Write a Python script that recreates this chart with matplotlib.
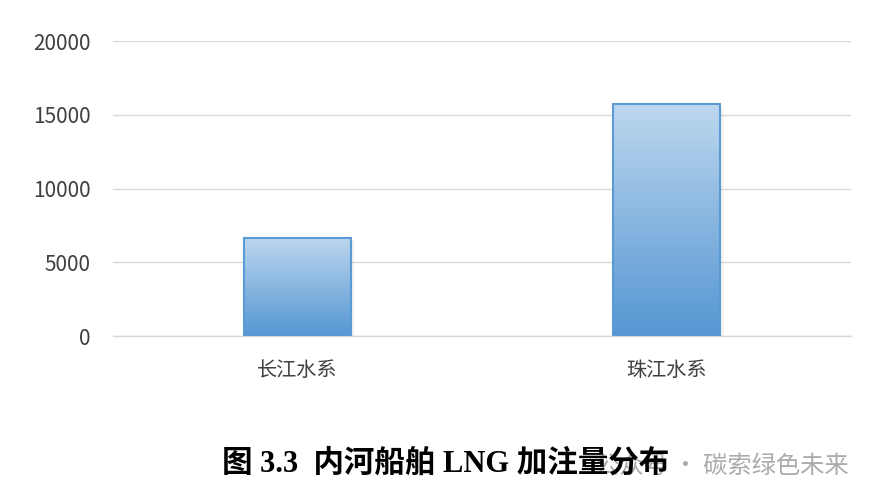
import matplotlib
matplotlib.use("Agg")
import matplotlib.pyplot as plt
import numpy as np
from matplotlib.colors import LinearSegmentedColormap
from matplotlib.patches import Rectangle

# data
categories = ['长江水系', '珠江水系']
values = [6650, 15720]
y_ticks = [0, 5000, 10000, 15000, 20000]

plt.rcParams['font.family'] = ['Noto Sans CJK SC', 'DejaVu Sans']

fig = plt.figure(figsize=(8.76, 5.01), dpi=100)
ax = fig.add_axes([0.129, 0.329, 0.842, 0.589])

x = np.arange(len(categories))
bar_w = 0.29
cmap = LinearSegmentedColormap.from_list('blu', ['#5596D3', '#BDD7EE'])
grad = np.linspace(0, 1, 256).reshape(-1, 1)

bars = ax.bar(x, values, width=bar_w, color='none', edgecolor='#5B9BD5',
              linewidth=1.5, zorder=3)
for b in bars:
    bx, by = b.get_x(), b.get_y()
    bw, bh = b.get_width(), b.get_height()
    # soft shadow
    for i, a in enumerate([0.10, 0.06, 0.03]):
        sh = Rectangle((bx + 0.004 * (i + 1), by - 60 * (i + 1)), bw, bh,
                       facecolor='#7f7f7f', edgecolor='none', alpha=a, zorder=2)
        ax.add_patch(sh)
    im = ax.imshow(grad, cmap=cmap, aspect='auto', origin='lower',
                   extent=[bx, bx + bw, by, by + bh], zorder=2.5)
    im.set_clip_path(b)

ax.set_xlim(-0.5, 1.5)
ax.set_ylim(0, 20000)
ax.set_yticks(y_ticks)
ax.set_yticklabels([str(t) for t in y_ticks])
ax.set_xticks(x)
ax.set_xticklabels(categories)
ax.grid(axis='y', color='#D9D9D9', linewidth=1, zorder=0)
ax.set_axisbelow(True)
for s in ['top', 'right', 'left']:
    ax.spines[s].set_visible(False)
ax.spines['bottom'].set_color('#D9D9D9')
ax.spines['bottom'].set_linewidth(1)
ax.tick_params(axis='both', length=0, colors='#404040')
ax.tick_params(axis='y', pad=16, labelsize=15)
ax.tick_params(axis='x', pad=17, labelsize=14.5)

# watermark
fig.text(0.969, 0.071, '公众号 · 碳索绿色未来', fontsize=17.5, color='#ABABAB',
         ha='right', va='center', zorder=1)
# caption
fig.text(0.253, 0.074, '图 3.3  内河船舶 LNG 加注量分布', fontsize=22, fontweight='bold',
         family=['Liberation Serif', 'Noto Sans CJK SC'], color='black',
         ha='left', va='center', zorder=5)

fig.savefig('out.png', dpi=100)
